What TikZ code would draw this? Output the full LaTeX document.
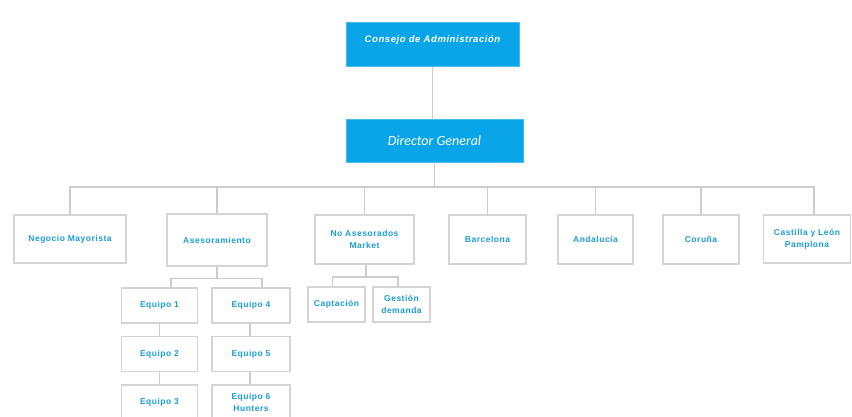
\documentclass[tikz,border=0pt]{standalone}
\usepackage{fontspec}
\setmainfont{Liberation Sans}
\newfontfamily\lblfont[LetterSpace=6]{Liberation Sans}
\newfontfamily\dirfont{Carlito}
\definecolor{cyanbox}{HTML}{0AA5E8}
\definecolor{cyantext}{HTML}{1C9ED6}
\definecolor{boxline}{HTML}{D4D4D4}
\definecolor{conline}{HTML}{CCCCCC}
\begin{document}
\begin{tikzpicture}[x=1pt,y=-1pt,
  orgbox/.style={draw=boxline, line width=1.2pt, fill=white, inner sep=2pt,
    align=center, text=cyantext, font=\lblfont\bfseries\fontsize{8.5}{12}\selectfont},
  topbox/.style={draw=cyanbox!75!white, line width=1pt, fill=cyanbox, text=white, align=center},
  conn/.style={draw=conline, line width=1.5pt}]
\useasboundingbox (0,0) rectangle (852,416);

% top level
\node[topbox, minimum width=173pt, minimum height=44pt,
      font=\lblfont\bfseries\itshape\fontsize{9.5}{11}\selectfont] (consejo) at (432.5,44) {Consejo de Administración\\[-4pt]\strut};
\node[topbox, minimum width=177pt, minimum height=43pt,
      font=\dirfont\itshape\fontsize{14}{16}\selectfont] (director) at (434.5,140.5) {Director General};

% second level
\node[orgbox, minimum width=112pt, minimum height=48pt] (negocio) at (70,239) {Negocio Mayorista};
\node[orgbox, minimum width=100pt, minimum height=52pt] (asesor) at (217,240) {Asesoramiento};
\node[orgbox, minimum width=99pt, minimum height=49pt] (noases) at (364.5,239.5) {No Asesorados\\Market};
\node[orgbox, minimum width=77pt, minimum height=49pt] (barcelona) at (487.5,239.5) {Barcelona};
\node[orgbox, minimum width=75pt, minimum height=49pt] (andalucia) at (595.5,239.5) {Andalucía};
\node[orgbox, minimum width=76pt, minimum height=49pt] (coruna) at (701,239.5) {Coruña};
\node[orgbox, minimum width=87pt, minimum height=48pt] (castilla) at (807,239) {Castilla y León\\Pamplona};

% equipos
\node[orgbox, minimum width=76pt, minimum height=35pt] (e1) at (159.5,305.5) {Equipo 1};
\node[orgbox, minimum width=76pt, minimum height=35pt] (e2) at (159.5,354) {Equipo 2};
\node[orgbox, minimum width=76pt, minimum height=35pt] (e3) at (159.5,402.5) {Equipo 3};
\node[orgbox, minimum width=78pt, minimum height=35pt] (e4) at (251,305.5) {Equipo 4};
\node[orgbox, minimum width=78pt, minimum height=35pt] (e5) at (251,354) {Equipo 5};
\node[orgbox, minimum width=78pt, minimum height=35pt] (e6) at (251,402.5) {Equipo 6\\Hunters};

% no asesorados children
\node[orgbox, minimum width=57pt, minimum height=35pt] (captacion) at (336.5,304.5) {Captación};
\node[orgbox, minimum width=57pt, minimum height=35pt] (gestion) at (401.5,304.5) {Gestión\\demanda};

% connectors
\coordinate (bus) at (434,187);
\coordinate (abus) at (217,278.5);
\coordinate (nbus) at (366,277);

\draw[conn] (consejo.south) -- (consejo.south |- director.north);
\foreach \n in {negocio,asesor,noases,barcelona,andalucia,coruna}
  \draw[conn] (director.south) -- (director.south |- bus) -| (\n.north);
\draw[conn] (director.south |- bus) -| ([xshift=7pt]castilla.north);

\draw[conn] (asesor.south) -- (asesor.south |- abus) -| ([xshift=11.5pt]e1.north);
\draw[conn] (asesor.south |- abus) -| ([xshift=11pt]e4.north);
\draw[conn] (e1.south) -- (e2.north);
\draw[conn] (e2.south) -- (e3.north);
\draw[conn] ([xshift=-1pt]e4.south) -- ([xshift=-1pt]e5.north);
\draw[conn] ([xshift=-1pt]e5.south) -- ([xshift=-1pt]e6.north);

\draw[conn] ([xshift=1.5pt]noases.south) -- ([xshift=1.5pt]noases.south |- nbus) -| ([xshift=-4pt]captacion.north);
\draw[conn] ([xshift=1.5pt]noases.south |- nbus) -| ([xshift=-3.5pt]gestion.north);
\end{tikzpicture}
\end{document}
